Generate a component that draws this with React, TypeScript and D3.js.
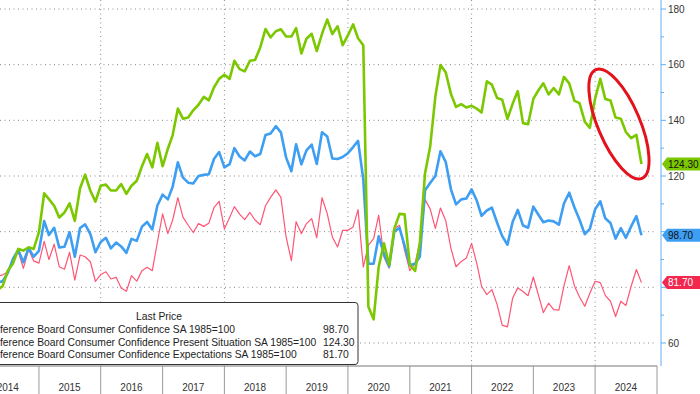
import React from 'react';
import * as d3 from 'd3';

// monthly readings, Apr 2014 .. Sep 2024
const firstMonth = new Date(2014, 3, 1);
const lastMonth = new Date(2024, 8, 1);

// Conference Board Consumer Confidence SA 1985=100 (blue)
const headline = [
  81.7, 82.2, 85.2, 90.3, 93.4, 89.0, 94.1, 91.0, 93.1,
  103.8, 98.8, 101.4, 94.3, 94.6, 99.8, 91.0, 101.3, 102.6, 99.1, 92.6, 96.3,
  97.8, 94.0, 96.1, 94.7, 92.4, 97.4, 96.7, 101.8, 103.5, 100.8, 109.4, 113.3,
  111.6, 116.1, 124.9, 119.4, 117.6, 117.3, 120.0, 120.4, 120.6, 126.2, 128.6, 123.1,
  124.3, 130.0, 127.0, 125.6, 128.8, 127.1, 127.9, 134.7, 135.3, 137.9, 135.7, 126.6,
  121.7, 131.4, 124.2, 129.2, 131.3, 124.3, 135.7, 134.2, 126.3, 126.1, 126.8, 128.2,
  130.4, 132.6, 118.8, 88.5, 88.5, 98.3, 92.0, 87.5, 100.0, 101.4, 95.0, 88.0,
  88.5, 91.0, 114.9, 117.5, 120.0, 128.9, 125.1, 115.2, 109.8, 111.6, 111.9, 115.2,
  111.1, 105.7, 107.6, 108.6, 103.2, 98.4, 95.3, 103.6, 107.8, 102.2, 101.4, 109.0,
  106.0, 103.4, 104.0, 103.7, 102.5, 110.1, 114.0, 108.7, 104.3, 99.1, 101.0, 108.0,
  110.9, 104.8, 103.1, 97.5, 101.3, 97.8, 101.9, 105.6, 98.7,
];

// Present Situation (green)
const present = [
  79.0, 80.5, 86.0, 88.6, 93.8, 93.2, 94.4, 93.8, 99.8,
  113.8, 111.7, 109.3, 105.1, 106.9, 110.2, 103.9, 115.6, 120.5, 114.7, 110.8, 116.5,
  116.9, 114.8, 114.8, 117.1, 113.6, 116.5, 118.3, 123.5, 127.9, 123.1, 131.9, 123.5,
  129.8, 134.6, 144.2, 140.6, 141.0, 143.6, 145.6, 148.4, 147.2, 151.9, 154.9, 156.4,
  154.9, 161.4, 158.4, 157.6, 161.4, 161.7, 166.2, 172.8, 169.8, 172.0, 172.7, 170.1,
  170.1, 173.1, 164.0, 169.3, 171.1, 164.9, 171.1, 176.2, 171.0, 173.8, 167.0, 170.5,
  174.5, 169.5, 167.0, 73.0, 68.5, 87.4, 95.8, 88.0, 101.0, 106.4, 106.2, 88.0,
  85.9, 95.9, 121.0, 130.5, 148.6, 159.9, 157.3, 149.5, 144.8, 145.8, 144.6, 145.2,
  144.2, 142.8, 154.0, 152.8, 148.0, 147.4, 140.5, 146.0, 150.5, 139.0, 138.6, 147.7,
  150.9, 153.3, 149.3, 151.6, 149.3, 155.6, 153.3, 147.0, 146.2, 139.5, 137.3, 147.8,
  154.9, 147.7, 147.1, 141.0, 140.6, 135.8, 133.6, 134.8, 124.3,
];

// Expectations (red)
const expectations = [
  84.0, 84.5, 85.5, 90.0, 92.8, 86.8, 93.6, 89.5, 88.7,
  96.5, 90.0, 95.5, 87.4, 86.5, 92.6, 82.6, 91.6, 91.0, 89.2, 82.1, 84.6,
  85.6, 83.0, 83.6, 79.8, 78.6, 84.2, 82.2, 86.0, 87.2, 86.0, 96.2, 106.4,
  99.3, 104.1, 112.2, 105.2, 102.3, 99.7, 102.9, 101.9, 103.0, 108.7, 110.9, 101.0,
  105.1, 109.0, 106.3, 104.3, 106.9, 104.2, 102.5, 109.3, 112.3, 115.0, 112.3, 98.0,
  89.6, 103.6, 99.3, 102.9, 104.7, 97.8, 112.2, 106.5, 98.1, 94.5, 100.5, 100.5,
  101.7, 107.9, 87.3, 95.1, 97.5, 105.9, 90.9, 86.9, 101.1, 102.3, 93.3, 86.0,
  88.6, 96.0, 111.5, 108.2, 101.2, 108.5, 104.0, 94.0, 87.4, 89.3, 90.5, 95.8,
  88.5, 80.4, 77.4, 79.2, 73.8, 66.4, 65.8, 76.2, 79.8, 78.5, 77.0, 83.7,
  77.0, 70.9, 74.3, 72.0, 71.8, 80.5, 87.8, 80.5, 76.5, 73.2, 77.9, 82.2,
  81.7, 77.1, 75.0, 69.5, 75.0, 73.5, 80.4, 86.4, 81.7,
];

const yTicks = [60, 80, 100, 120, 140, 160, 180];
const gridYears = [2016, 2018, 2020, 2022, 2024];
const yearLabels = d3.range(2014, 2025);

const legendTitle = 'Last Price';
const series = [
  { name: 'Conference Board Consumer Confidence SA 1985=100', values: headline, color: '#3d9ef2', width: 2.6, flagText: '#111' },
  { name: 'Conference Board Consumer Confidence Present Situation SA 1985=100', values: present, color: '#7cc800', width: 2.6, flagText: '#111' },
  { name: 'Conference Board Consumer Confidence Expectations SA 1985=100', values: expectations, color: '#ff5574', width: 1.2, flagText: '#fff' },
];

const font = "'Liberation Sans', Arial, sans-serif";

export default function App() {
  const width = 700;
  const height = 394;
  const plotRight = 657;
  const axisY = 366;
  const yAxisX = 661;

  const months = d3.timeMonth.range(firstMonth, d3.timeMonth.offset(lastMonth, 1));

  const x = d3.scaleTime()
    .domain([new Date(2016, 0, 1), new Date(2024, 0, 1)])
    .range([100.7, 595.1]);
  const y = d3.scaleLinear().domain([60, 180]).range([343, 9]);

  // each reading sits at the end of its month
  const line = d3.line<number>()
    .x((_, i) => x(d3.timeMonth.offset(months[i], 1)))
    .y(v => y(v));

  const flagFill = ['#3d9ef2', '#7cc800', '#f2284e'];
  const drawOrder = [2, 0, 1];
  const lastValues = series.map(s => s.values[s.values.length - 1]);
  // tick labels sitting under a last-value flag are hidden by it
  const shownTicks = yTicks.filter(t => lastValues.every(v => Math.abs(y(v) - y(t)) > 10));

  return (
    <svg width={width} height={height} style={{ position: 'absolute', left: 0, top: 0, background: '#fff' }} fontFamily={font}>
      <defs>
        <clipPath id="plot">
          <rect x={0} y={0} width={plotRight} height={axisY} />
        </clipPath>
      </defs>

      {/* dotted grid */}
      {yTicks.map(t => (
        <line key={'g' + t} x1={0} x2={plotRight} y1={y(t)} y2={y(t)} stroke="#8a8a8a" strokeDasharray="1,3.5" />
      ))}
      {gridYears.map(yr => (
        <line key={'v' + yr} x1={x(new Date(yr, 0, 1))} x2={x(new Date(yr, 0, 1))} y1={0} y2={axisY} stroke="#8a8a8a" strokeDasharray="1,3.5" />
      ))}

      {/* series */}
      <g clipPath="url(#plot)">
        {drawOrder.map(k => (
          <path key={k} d={line(series[k].values) || ''} fill="none" stroke={series[k].color}
            strokeWidth={series[k].width} strokeLinejoin="round" />
        ))}
      </g>

      {/* highlight ellipse */}
      <ellipse
        cx={x(new Date(2024, 4, 21))} cy={y(138.7)} rx={59} ry={21}
        transform={`rotate(67 ${x(new Date(2024, 4, 21))} ${y(138.7)})`}
        fill="none" stroke="#e3121b" strokeWidth={3}
      />

      {/* legend */}
      <rect x={-10} y={302.5} width={368} height={62} rx={3} fill="#fff" stroke="#333" />
      <text x={159} y={320} textAnchor="middle" fontSize={10.3} fill="#222">{legendTitle}</text>
      {series.map((s, i) => (
        <g key={s.name} fontSize={10.3} fill="#222">
          <text x={-18.9} y={333 + i * 12.6}>{s.name}</text>
          <text x={323} y={333 + i * 12.6}>{lastValues[i].toFixed(2)}</text>
        </g>
      ))}

      {/* bottom axis */}
      <line x1={0} x2={plotRight} y1={axisY} y2={axisY} stroke="#777" />
      {d3.range(2015, 2026).map(yr => (
        <line key={'s' + yr} x1={x(new Date(yr, 0, 1))} x2={x(new Date(yr, 0, 1))} y1={axisY} y2={height} stroke="#999" />
      ))}
      {yearLabels.map(yr => (
        <text key={'y' + yr} x={x(new Date(yr, 6, 1))} y={391} textAnchor="middle" fontSize={10} fill="#333">{yr}</text>
      ))}

      {/* right axis */}
      <line x1={yAxisX} x2={yAxisX} y1={0} y2={axisY} stroke="#62b0f5" />
      {d3.range(60, 181, 10).map(t => (
        <line key={'t' + t} x1={yAxisX} x2={yAxisX + (t % 20 === 0 ? 5 : 3)} y1={y(t)} y2={y(t)} stroke="#62b0f5" />
      ))}
      {shownTicks.map(t => (
        <text key={'l' + t} x={668} y={y(t) + 3.6} fontSize={10} fill="#333">{t}</text>
      ))}

      {/* last value flags */}
      {series.map((s, i) => {
        const last = lastValues[i];
        const cy = y(last);
        return (
          <g key={'f' + i}>
            <path d={`M${yAxisX + 1},${cy} L${yAxisX + 6},${cy - 6.5} L${width},${cy - 6.5} L${width},${cy + 6.5} L${yAxisX + 6},${cy + 6.5} Z`}
              fill={flagFill[i]} />
            <text x={668} y={cy + 3.6} fontSize={10} fill={s.flagText}>{last.toFixed(2)}</text>
          </g>
        );
      })}
    </svg>
  );
}
